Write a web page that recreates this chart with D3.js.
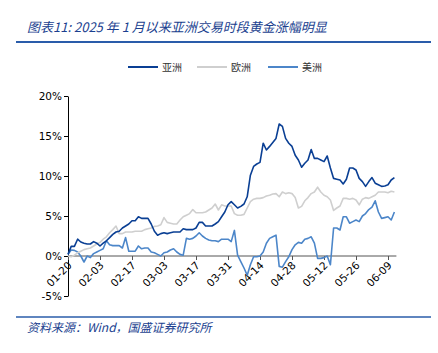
<!DOCTYPE html>
<html><head><meta charset="utf-8">
<script src="https://cdn.jsdelivr.net/npm/d3@7"></script>
<style>
body{margin:0;background:#fff;}
svg{display:block;}
</style></head>
<body>
<svg id="c" width="438" height="353"></svg>
<script>
const dates = [
"01-20","01-21","01-22","01-23","01-24","01-27","01-28","01-29","01-30","01-31",
"02-03","02-04","02-05","02-06","02-07","02-10","02-11","02-12","02-13","02-14",
"02-17","02-18","02-19","02-20","02-21","02-24","02-25","02-26","02-27","02-28",
"03-03","03-04","03-05","03-06","03-07","03-10","03-11","03-12","03-13","03-14",
"03-17","03-18","03-19","03-20","03-21","03-24","03-25","03-26","03-27","03-28",
"03-31","04-01","04-02","04-03","04-04","04-07","04-08","04-09","04-10","04-11",
"04-14","04-15","04-16","04-17","04-18","04-21","04-22","04-23","04-24","04-25",
"04-28","04-29","04-30","05-01","05-02","05-05","05-06","05-07","05-08","05-09",
"05-12","05-13","05-14","05-15","05-16","05-19","05-20","05-21","05-22","05-23",
"05-26","05-27","05-28","05-29","05-30","06-02","06-03","06-04","06-05","06-06",
"06-09","06-10","06-11"];

const tickLabels = ["01-20","02-03","02-17","03-03","03-17","03-31","04-14","04-28","05-12","05-26","06-09"];
const yTicks = [-5,0,5,10,15,20];
const seriesNames = ["亚洲","欧洲","美洲"];

const asia = [
0.2,1.2,1.2,2.1,1.75,1.6,1.5,1.5,1.8,1.6,
1.25,1.6,1.9,2.3,2.7,3.0,3.1,3.5,3.75,4.0,
4.4,4.4,4.9,4.7,4.7,4.7,4.0,3.1,2.6,2.8,
2.9,2.8,2.9,3.0,3.0,3.0,3.4,3.3,3.3,3.3,
3.5,4.2,4.2,3.75,3.75,3.75,4.0,4.3,4.9,5.5,
6.4,6.8,6.4,6.0,6.2,6.5,7.4,10.1,11.2,11.5,
11.7,14.1,13.25,13.7,14.2,14.7,16.5,16.2,14.7,14.1,
13.7,12.6,12.0,11.1,11.6,12.0,13.3,12.2,12.2,12.0,
11.8,12.5,11.0,9.7,9.6,9.5,9.0,9.6,11.0,11.0,
10.75,9.7,9.3,8.7,9.3,9.8,9.1,8.9,8.7,8.75,
8.9,9.5,9.8];

const europe = [
0.0,-0.1,0.1,0.4,0.6,0.8,0.9,1.0,1.25,1.5,
1.7,2.1,2.4,2.9,3.3,3.75,2.8,2.8,3.0,3.0,
3.0,3.1,3.1,3.1,3.3,3.4,3.5,3.7,3.75,3.9,
4.8,4.2,4.1,4.0,4.0,4.5,4.9,5.1,5.3,5.8,
5.4,5.4,5.4,5.5,5.75,6.0,6.5,5.75,6.4,6.25,
6.25,6.25,5.3,5.1,5.1,5.2,6.0,6.8,7.1,7.2,
7.2,7.3,7.5,7.6,7.75,7.8,7.4,8.0,7.8,7.9,
7.8,7.3,6.0,6.2,6.9,7.3,7.8,8.0,8.6,8.0,
7.6,7.4,7.0,5.7,6.0,6.25,7.2,7.2,7.1,7.2,
7.0,6.4,7.1,7.3,7.2,7.4,7.6,8.0,8.0,8.0,
7.9,8.1,8.0];

const america = [
0.2,0.75,0.7,0.5,0.0,-0.75,0.0,-0.2,0.3,0.5,
0.7,0.9,1.9,1.4,1.3,1.3,1.3,1.0,2.3,0.6,
0.6,0.6,1.25,0.9,1.0,1.0,0.5,0.4,0.2,0.0,
0.4,0.5,0.75,0.9,0.5,0.2,0.1,2.2,2.1,2.2,
2.5,2.9,2.5,2.2,2.0,1.9,1.9,1.8,2.1,2.1,
2.1,1.8,3.2,0.1,-0.7,-1.5,-2.4,-1.1,-0.1,-0.1,
0.0,0.5,1.6,2.2,2.4,2.6,-1.3,-1.4,-0.7,-0.1,
0.8,1.4,1.7,1.6,2.1,2.2,2.4,1.6,-0.3,-0.3,
-0.2,0.0,-1.1,3.5,3.5,3.25,4.9,4.9,4.1,4.3,
4.5,4.3,5.0,5.3,5.8,6.1,6.9,5.5,4.7,4.8,
4.9,4.5,5.5];

const colors = ["#0a3f94","#cfcfcf","#4c86c9"];
const allSeries = [asia, europe, america];

const svg = d3.select("#c");
const cjk = "'Noto Sans CJK SC','Noto Sans',sans-serif";
const latin = "'DejaVu Sans','Noto Sans CJK SC',sans-serif";

// title
svg.append("text").attr("x",27).attr("y",32)
  .attr("font-family",cjk).attr("font-size",13).attr("font-style","italic")
  .attr("fill","#1b3f8f")
  .text("图表11:  2025 年 1 月以来亚洲交易时段黄金涨幅明显");
svg.append("line").attr("x1",16).attr("x2",431).attr("y1",42).attr("y2",42)
  .attr("stroke","#2a5caa").attr("stroke-width",2);

// footer
svg.append("line").attr("x1",16).attr("x2",431).attr("y1",317).attr("y2",317)
  .attr("stroke","#2a5caa").attr("stroke-width",1.5);
svg.append("text").attr("x",27).attr("y",332)
  .attr("font-family",cjk).attr("font-size",12).attr("font-style","italic")
  .attr("fill","#1b3f8f")
  .text("资料来源：Wind，国盛证券研究所");

const x = d3.scalePoint().domain(dates).range([68, 68 + 3.2*(dates.length-1)]);
const y = d3.scaleLinear().domain([-5,20]).range([296,96]);

// y axis
const yAxis = d3.axisLeft(y).tickValues(yTicks).tickFormat(d=>d+"%").tickSize(4).tickSizeOuter(0);
const gy = svg.append("g").attr("transform","translate(68,0)").call(yAxis);
gy.selectAll("text").attr("font-family",latin).attr("font-size",10.5).attr("fill","#000").attr("x",-6);
gy.selectAll("line").attr("stroke","#000");
gy.select(".domain").attr("stroke","#000");

// x axis
const xAxis = d3.axisBottom(x).tickValues(tickLabels).tickSize(4).tickSizeOuter(0);
const gx = svg.append("g").attr("transform",`translate(0,${y(0)})`).call(xAxis);
gx.select(".domain").attr("stroke","#555").attr("d",`M68,0H${68+3.2*(dates.length-1)+2}`);
gx.selectAll("line").attr("stroke","#555");
gx.selectAll("text").attr("font-family",latin).attr("font-size",10.5).attr("fill","#000")
  .attr("text-anchor","end").attr("dy",null).attr("y",null)
  .attr("transform","translate(4,10) rotate(-45)");

// lines
const line = d3.line().x((d,i)=>x(dates[i])).y(d=>y(d));
allSeries.slice().reverse().forEach((s,k)=>{
  const idx = 2-k;
  svg.append("path").datum(s).attr("d",line).attr("fill","none")
    .attr("stroke",colors[idx]).attr("stroke-width",1.6).attr("stroke-linejoin","round");
});

// legend
const lx = [128,197,268];
seriesNames.forEach((n,i)=>{
  svg.append("line").attr("x1",lx[i]).attr("x2",lx[i]+30).attr("y1",67).attr("y2",67)
    .attr("stroke",colors[i]).attr("stroke-width",2);
  svg.append("text").attr("x",lx[i]+34).attr("y",71).attr("font-family",cjk)
    .attr("font-size",10).attr("fill","#333").text(n);
});
</script>
</body></html>
